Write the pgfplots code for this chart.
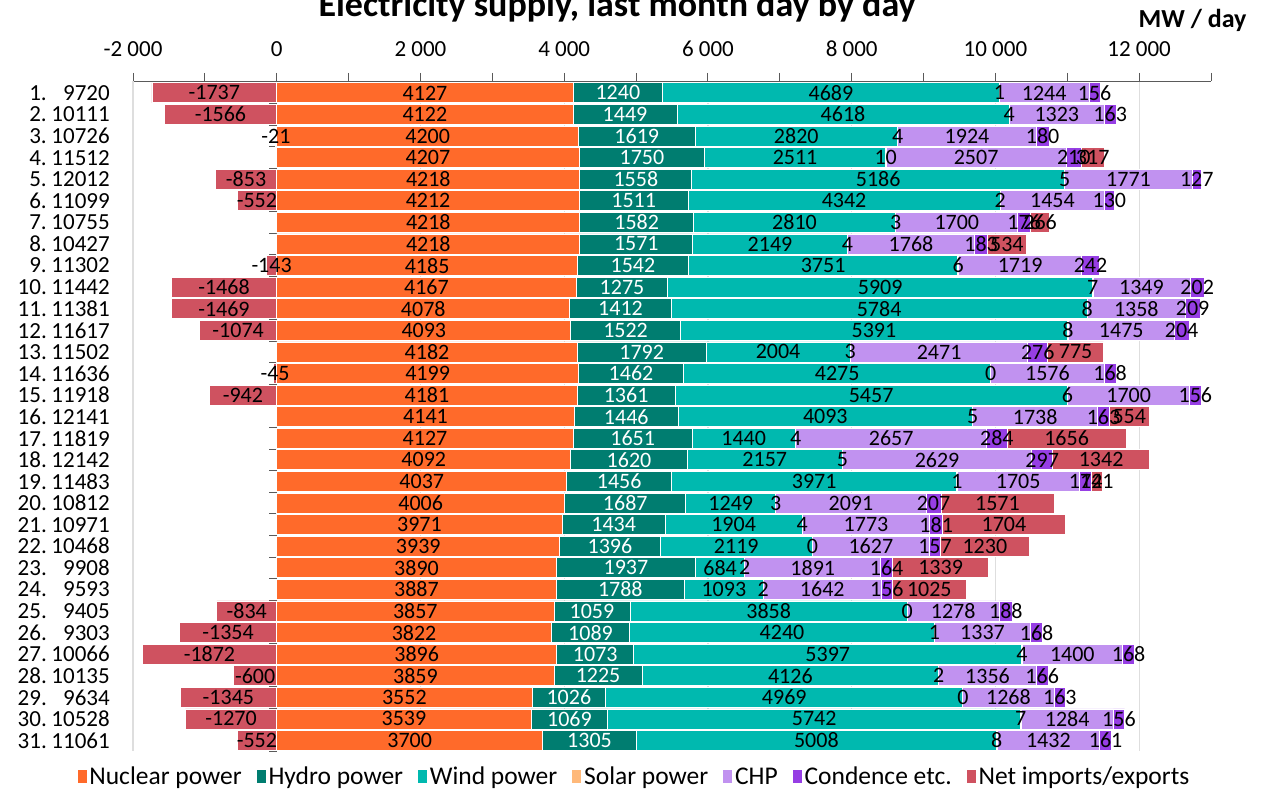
\documentclass[border=0pt]{standalone}
\usepackage{pgfplots}
\pgfplotsset{compat=1.18}
\usepackage{pgfplotstable}
\usepackage{fontspec}
\setmainfont{Carlito}
\definecolor{cNuc}{RGB}{255,106,42}
\definecolor{cHyd}{RGB}{0,125,112}
\definecolor{cWind}{RGB}{0,185,175}
\definecolor{cSol}{RGB}{255,185,122}
\definecolor{cChp}{RGB}{193,146,240}
\definecolor{cCond}{RGB}{150,62,228}
\definecolor{cNet}{RGB}{207,82,96}
\definecolor{cAxis}{RGB}{90,90,90}
\definecolor{cGrid}{RGB}{222,222,222}

\pgfplotstableread{
day nuc hyd wind sol chp cond net
1 4127 1240 4689 1 1244 156 -1737
2 4122 1449 4618 4 1323 163 -1566
3 4200 1619 2820 4 1924 180 -21
4 4207 1750 2511 10 2507 210 317
5 4218 1558 5186 5 1771 127 -853
6 4212 1511 4342 2 1454 130 -552
7 4218 1582 2810 3 1700 176 266
8 4218 1571 2149 4 1768 183 534
9 4185 1542 3751 6 1719 242 -143
10 4167 1275 5909 7 1349 202 -1468
11 4078 1412 5784 8 1358 209 -1469
12 4093 1522 5391 8 1475 204 -1074
13 4182 1792 2004 3 2471 276 775
14 4199 1462 4275 0 1576 168 -45
15 4181 1361 5457 6 1700 156 -942
16 4141 1446 4093 5 1738 163 554
17 4127 1651 1440 4 2657 284 1656
18 4092 1620 2157 5 2629 297 1342
19 4037 1456 3971 1 1705 172 141
20 4006 1687 1249 3 2091 207 1571
21 3971 1434 1904 4 1773 181 1704
22 3939 1396 2119 0 1627 157 1230
23 3890 1937 684 2 1891 164 1339
24 3887 1788 1093 2 1642 156 1025
25 3857 1059 3858 0 1278 188 -834
26 3822 1089 4240 1 1337 168 -1354
27 3896 1073 5397 4 1400 168 -1872
28 3859 1225 4126 2 1356 166 -600
29 3552 1026 4969 0 1268 163 -1345
30 3539 1069 5742 7 1284 156 -1270
31 3700 1305 5008 8 1432 161 -552
}\datatable

\newcommand\yl[2]{\makebox[26pt][r]{#1.}\makebox[63pt][r]{#2}}

\pgfplotsset{
  base/.style={
    at={(133pt,41.7pt)}, anchor=south west,
    scale only axis, width=1078pt, height=670.3pt,
    xmin=-2000, xmax=13000, ymin=0.45, ymax=31.5, y dir=reverse,
    scaled x ticks=false, scaled y ticks=false,
  },
  seg/.style={fill=#1, draw=white, line width=0.8pt,
    legend image code/.code={\path[fill=#1] (0pt,-7pt) rectangle (10pt,7pt);}},
  lab/.style={draw=none, mark=none, nodes near coords={\pgfplotspointmeta},
    point meta=explicit symbolic,
    every node near coord/.append style={anchor=center, inner sep=0pt,
      font=\fontsize{22}{24}\selectfont, text=#1}},
  lab/.default=black,
}

\begin{document}
\begin{tikzpicture}
\useasboundingbox (0,0) rectangle (1263pt,793pt);

% background: axis, grid, ticks, negative net imports
\begin{axis}[base,
  axis x line*=top, axis y line*=left,
  x axis line style={cAxis, line width=1pt},
  y axis line style={cGrid, line width=1pt},
  xtick={-2000,0,...,12000},
  xticklabels={-2 000,0,2 000,4 000,6 000,8 000,10 000,12 000},
  minor xtick={-1000,1000,...,13000},
  tick align=outside,
  major tick length=8pt, minor tick length=8pt,
  xtick style={cAxis, line width=1pt},
  xmajorgrids, major grid style={cGrid, line width=1.2pt},
  xticklabel style={font=\fontsize{23}{26}\selectfont, inner sep=0pt},
  xticklabel shift=16pt,
  ytick={1,...,31},
  yticklabels={{\yl{1}{9720}},{\yl{2}{10111}},{\yl{3}{10726}},{\yl{4}{11512}},{\yl{5}{12012}},{\yl{6}{11099}},{\yl{7}{10755}},{\yl{8}{10427}},{\yl{9}{11302}},{\yl{10}{11442}},{\yl{11}{11381}},{\yl{12}{11617}},{\yl{13}{11502}},{\yl{14}{11636}},{\yl{15}{11918}},{\yl{16}{12141}},{\yl{17}{11819}},{\yl{18}{12142}},{\yl{19}{11483}},{\yl{20}{10812}},{\yl{21}{10971}},{\yl{22}{10468}},{\yl{23}{9908}},{\yl{24}{9593}},{\yl{25}{9405}},{\yl{26}{9303}},{\yl{27}{10066}},{\yl{28}{10135}},{\yl{29}{9634}},{\yl{30}{10528}},{\yl{31}{11061}}},
  ytick style={draw=none},
  yticklabel style={font=\fontsize{23}{25}\selectfont, inner sep=0pt, anchor=east},
  yticklabel shift=15pt,
]
\draw[cAxis, line width=1pt] (axis cs:0,0.45) -- (axis cs:0,31.5);
\pgfplotsinvokeforeach{1.5,2.5,...,31.5}{\draw[cAxis, line width=1pt] (axis cs:0,#1) -- ([xshift=-8pt]axis cs:0,#1);}
\addplot[xbar, bar width=20pt, bar shift=0pt, fill=cNet, draw=white, line width=0.8pt]
  table[x expr={min(\thisrow{net},0)}, y=day] {\datatable};
\end{axis}

% stacked positive parts + legend
\begin{axis}[base, hide axis, xbar stacked, bar width=20pt,
  legend columns=-1,
  legend style={at={(0.4647,-0.038)}, anchor=center, draw=none, fill=none,
    font=\fontsize{25.5}{28}\selectfont,
    /tikz/every even column/.append style={column sep=12pt}},
]
\addplot[seg=cNuc] table[x=nuc, y=day] {\datatable};
\addplot[seg=cHyd] table[x=hyd, y=day] {\datatable};
\addplot[seg=cWind] table[x=wind, y=day] {\datatable};
\addplot[seg=cSol] table[x=sol, y=day] {\datatable};
\addplot[seg=cChp] table[x=chp, y=day] {\datatable};
\addplot[seg=cCond] table[x=cond, y=day] {\datatable};
\addplot[seg=cNet] table[x expr={max(\thisrow{net},0)}, y=day] {\datatable};
\legend{Nuclear power, Hydro power, Wind power, Solar power, CHP, Condence etc., Net imports/exports}
\end{axis}

% value labels
\begin{axis}[base, hide axis, clip=false]
\addplot[lab] table[x expr={\thisrow{nuc}/2}, y=day, meta=nuc] {\datatable};
\addplot[lab=white] table[x expr={\thisrow{nuc}+\thisrow{hyd}/2}, y=day, meta=hyd] {\datatable};
\addplot[lab] table[x expr={\thisrow{nuc}+\thisrow{hyd}+\thisrow{wind}/2}, y=day, meta=wind] {\datatable};
\addplot[lab] table[x expr={\thisrow{nuc}+\thisrow{hyd}+\thisrow{wind}+\thisrow{sol}/2}, y=day, meta=sol] {\datatable};
\addplot[lab] table[x expr={\thisrow{nuc}+\thisrow{hyd}+\thisrow{wind}+\thisrow{sol}+\thisrow{chp}/2}, y=day, meta=chp] {\datatable};
\addplot[lab] table[x expr={\thisrow{nuc}+\thisrow{hyd}+\thisrow{wind}+\thisrow{sol}+\thisrow{chp}+\thisrow{cond}/2}, y=day, meta=cond] {\datatable};
\addplot[lab] table[x expr={\thisrow{net}<0 ? \thisrow{net}/2 : \thisrow{nuc}+\thisrow{hyd}+\thisrow{wind}+\thisrow{sol}+\thisrow{chp}+\thisrow{cond}+\thisrow{net}/2}, y=day, meta=net] {\datatable};
\end{axis}

\node[anchor=base, font=\bfseries\fontsize{36}{40}\selectfont] at (617pt,776pt) {Electricity supply, last month day by day};
\node[anchor=base east, font=\bfseries\fontsize{26}{30}\selectfont] at (1250pt,765pt) {MW / day};
\end{tikzpicture}
\end{document}
